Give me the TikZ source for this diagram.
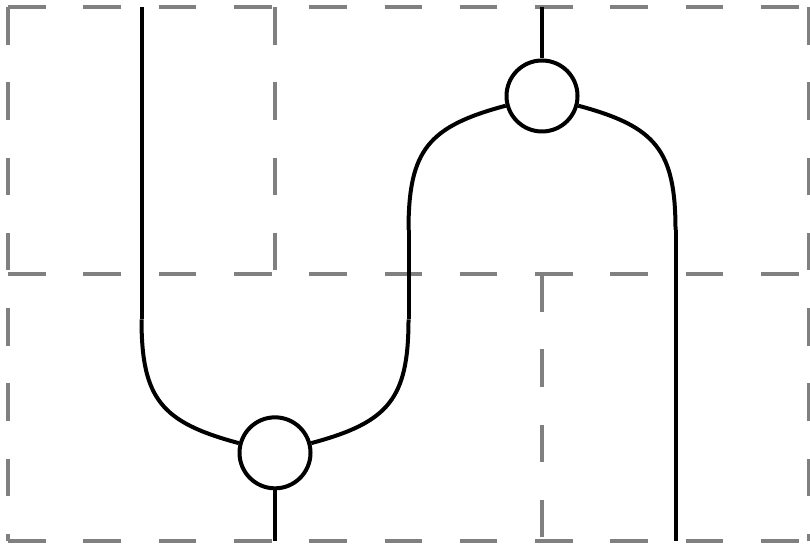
\documentclass[tikz,border=0pt]{standalone}
\usetikzlibrary{positioning}

\begin{document}
\begin{tikzpicture}[x=66.75pt, y=-66.75pt, line width=2pt]
    \tikzset{
        region/.style={draw=gray, line width=2pt, dash pattern=on 18.8pt off 18.85pt},
        wire/.style={draw=black, line width=2pt, looseness=1.3},
        spider/.style={circle, draw=black, line width=2pt, fill=white, inner sep=0pt, minimum size=35.5pt}
    }
    \useasboundingbox (-0.06,-0.052) rectangle (6.0075,4.052);

    % Regions
    \draw[region] (0,0) -- (6,0);
    \draw[region] (0,2) -- (6,2);
    \draw[region] (0,4) -- (6,4);
    \draw[region] (0,0) -- (0,4);
    \draw[region] (6,0) -- (6,4);
    \draw[region] (2,0) -- (2,2);
    \draw[region] (4,2) -- (4,4);

    % Spiders
    \node[spider] (mul) at (2,3.34) {};
    \node[spider] (comul) at (4,0.667) {};

    % Wire ends
    \coordinate (in1) at (1,0);
    \coordinate (l1) at (1,2.34);
    \coordinate (out1) at (2,4);
    \coordinate (m1) at (3,2.34);
    \coordinate (m2) at (3,1.67);
    \coordinate (in2) at (4,0);
    \coordinate (r1) at (5,1.67);
    \coordinate (out2) at (5,4);

    % Left wire into the bottom spider
    \draw[wire] (in1) -- (l1);
    \draw[wire] (l1) to[out=-90, in=165] (mul);
    \draw[wire] (mul) -- (out1);

    % Middle wire up to the top spider
    \draw[wire] (mul) to[out=15, in=-90] (m1);
    \draw[wire] (m1) -- (m2);
    \draw[wire] (m2) to[out=90, in=195] (comul);

    % Top spider to the right wire
    \draw[wire] (in2) -- (comul);
    \draw[wire] (comul) to[out=-15, in=90] (r1);
    \draw[wire] (r1) -- (out2);
\end{tikzpicture}
\end{document}
